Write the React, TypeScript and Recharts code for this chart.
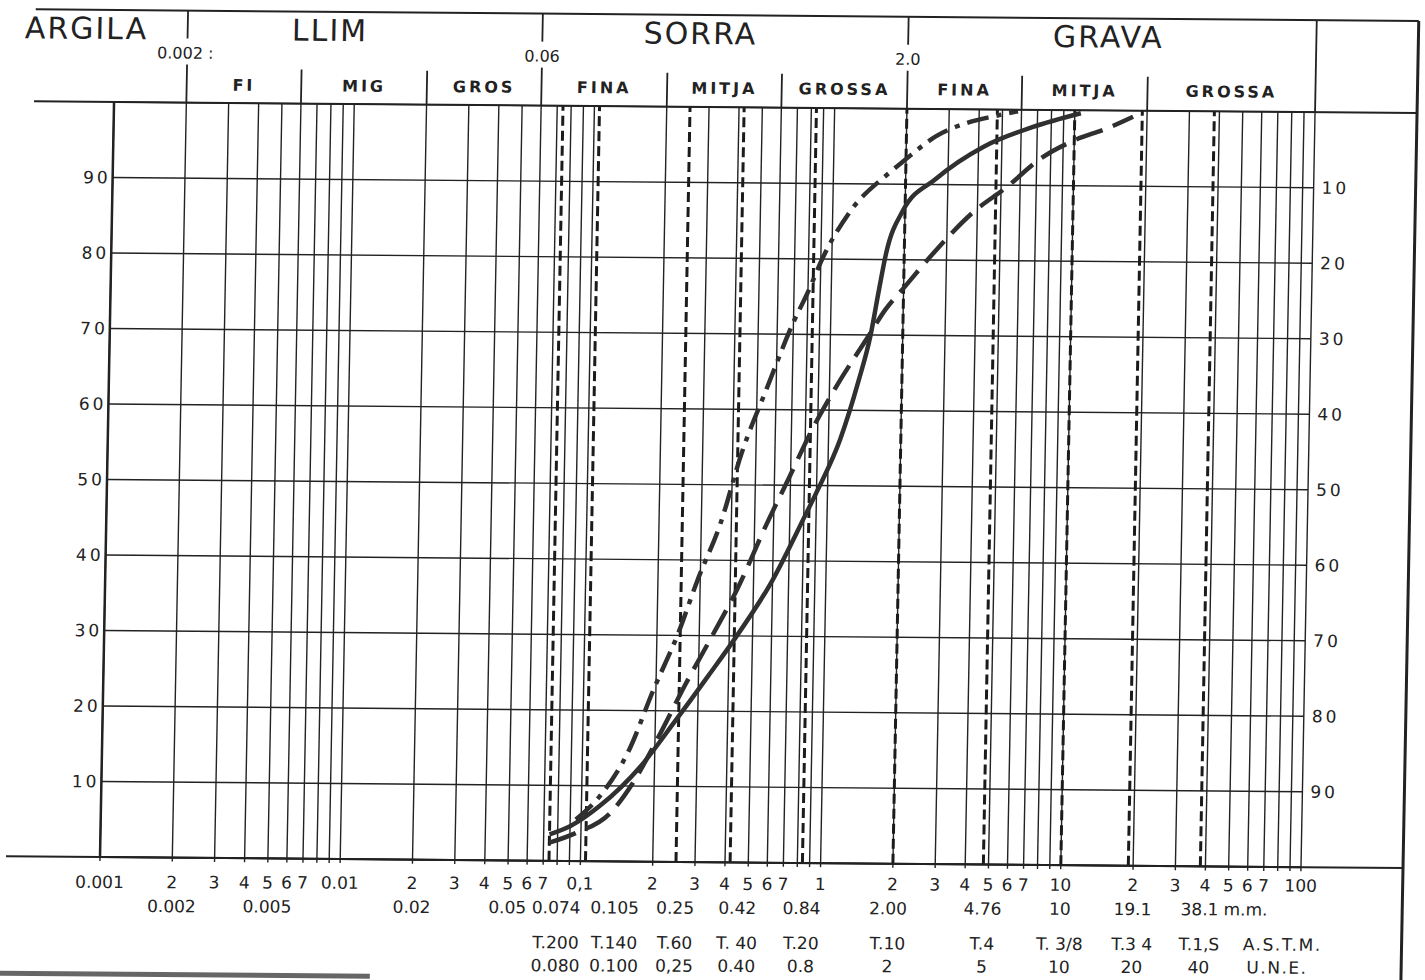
import React from "react";
import {
  ComposedChart,
  Line,
  XAxis,
  YAxis,
  CartesianGrid,
  ReferenceLine,
} from "recharts";

// grain size (mm) and % passing
const SOLID_MM = [0.074, 0.09, 0.119, 0.176, 0.24, 0.33, 0.43, 0.59, 0.81, 0.9, 1.12, 1.32, 1.47, 1.58, 1.68, 1.96, 2.66, 4.22, 6.67, 10.6];
const SOLID_PCT = [3.5, 4.6, 7.3, 12.7, 18.5, 24.7, 30, 37, 46, 49.1, 56.2, 63.9, 70, 76, 80.8, 86.5, 90.7, 95.1, 97.7, 99.6];

const DASHED_MM = [0.074, 0.095, 0.132, 0.163, 0.205, 0.265, 0.34, 0.43, 0.555, 0.69, 0.85, 1.04, 1.45, 1.68, 2.02, 2.66, 3.85, 5.26, 7.3, 10, 13.6, 17.5];
const DASHED_PCT = [2.4, 3.7, 6.4, 10.4, 16.3, 23.5, 30, 36.3, 44.5, 51, 57.3, 62.5, 70, 73.3, 76.4, 81, 86.4, 89.7, 93.6, 96, 97.6, 99.2];

const DASHDOT_MM = [0.095, 0.121, 0.156, 0.195, 0.246, 0.292, 0.36, 0.437, 0.544, 0.7, 0.81, 0.9, 1.18, 1.68, 1.96, 2.66, 3.65, 4.6, 5.8];
const DASHDOT_PCT = [5.5, 8.9, 14.7, 22.7, 30.4, 37.3, 44.8, 54.3, 62.5, 71.6, 76, 79.6, 86.3, 91.3, 93.1, 96.4, 98.3, 99.1, 99.8];

// size classes
const MAIN_BOUNDS = [0.001, 0.002, 0.06, 2, 100];
const MAIN_NAMES = ["ARGILA", "LLIM", "SORRA", "GRAVA"];
const SUB_BOUNDS = [0.002, 0.006, 0.02, 0.06, 0.2, 0.6, 2, 6, 20, 100];
const SUB_NAMES = ["FI", "MIG", "GROS", "FINA", "MITJA", "GROSSA", "FINA", "MITJA", "GROSSA"];
const MAJOR_MARKS = [0.002, 0.06, 2];
const MAJOR_MARK_LABELS = ["0.002 :", "0.06", "2.0"];

// log grid ticks
const DECADES = [0.001, 0.01, 0.1, 1, 10];
const DECADE_LABELS = ["0.001", "0.01", "0,1", "1", "10"];
const STEP_LABELS = ["", "2", "3", "4", "5", "6", "7", "", ""];
const PCT_TICKS = [10, 20, 30, 40, 50, 60, 70, 80, 90];

// sieves
const MARK_MM = [0.002, 0.005, 0.02, 0.05];
const MARK_LABELS = ["0.002", "0.005", "0.02", "0.05"];
const SIEVE_MM = [0.074, 0.105, 0.25, 0.42, 0.84, 2, 4.76, 10, 19.1, 38.1];
const SIEVE_MM_LABELS = ["0.074", "0.105", "0.25", "0.42", "0.84", "2.00", "4.76", "10", "19.1", "38.1"];
const ASTM_LABELS = ["T.200", "T.140", "T.60", "T. 40", "T.20", "T.10", "T.4", "T. 3/8", "T.3 4", "T.1,S"];
const UNE_LABELS = ["0.080", "0.100", "0,25", "0.40", "0.8", "2", "5", "10", "20", "40"];

const GRID_TICKS: number[] = [];
const GRID_LABELS: string[] = [];
DECADES.forEach((d, i) => {
  for (let m = 1; m <= 9; m++) {
    GRID_TICKS.push(+(d * m).toPrecision(6));
    GRID_LABELS.push(m === 1 ? DECADE_LABELS[i] : STEP_LABELS[m - 1]);
  }
});
GRID_TICKS.push(100);
GRID_LABELS.push("100");

const MAIN_CENTERS = MAIN_NAMES.map((_, i) => Math.sqrt(MAIN_BOUNDS[i] * MAIN_BOUNDS[i + 1]));
const SUB_CENTERS = SUB_NAMES.map((_, i) => Math.sqrt(SUB_BOUNDS[i] * SUB_BOUNDS[i + 1]));
const SIEVE_AXIS_TICKS = [...MARK_MM, ...SIEVE_MM];

const toRows = (xs: number[], ys: number[]) => xs.map((d, i) => ({ d, p: ys[i] }));
const solidData = toRows(SOLID_MM, SOLID_PCT);
const dashedData = toRows(DASHED_MM, DASHED_PCT);
const dashdotData = toRows(DASHDOT_MM, DASHDOT_PCT);

// layout / style
const W = 1425;
const H = 980;
const PLOT_LEFT = 100;
const PLOT_RIGHT = 1301;
const PLOT_TOP = 102;
const PLOT_BOTTOM = 857;
const HDR_TOP = 10;
const FRAME_RIGHT = 1403;
const INK = "#222";
const CURVE = "#303030";
const FONT = "'DejaVu Sans', 'Liberation Sans', sans-serif";
const DOMAIN: [number, number] = [0.001, 100];
const SKEW_Y = 0.0085; // scan tilt of the horizontal rules
const TEXT_LEVEL = 0.0055; // lettering below the axis is almost level in the scan
const MAIN_DX = [-65, -35, -25, -4];
const MAJOR_DX = [-2, 0, 0];
const SIEVE_DX = [8, 30, 0, 8, 0, -4, 0, 0, 5, 0];
const ROW1_Y = 888;
const ROW2_Y = 912;
const ROW3_Y = 947;
const ROW4_Y = 970;

const txt = { fill: INK, fontFamily: FONT };
const rowY = (base: number, x: number) => base - TEXT_LEVEL * (x - PLOT_LEFT);

const BoundaryTick = (props: any) => {
  const { x, payload } = props;
  const v = payload.value;
  const k = MAJOR_MARKS.indexOf(v);
  const seg = (y1: number, y2: number) => (
    <line x1={x} x2={x} y1={y1} y2={y2} stroke={INK} strokeWidth={1.8} />
  );
  if (k >= 0) {
    return (
      <g>
        {seg(HDR_TOP, 38)}
        <text x={x + MAJOR_DX[k]} y={58} textAnchor="middle" fontSize={16} {...txt}>
          {MAJOR_MARK_LABELS[k]}
        </text>
        {seg(64, PLOT_TOP)}
      </g>
    );
  }
  if (v === 100) return <g>{seg(HDR_TOP, PLOT_TOP)}</g>;
  return <g>{seg(68, PLOT_TOP)}</g>;
};

const MainNameTick = (props: any) => {
  const { x, payload } = props;
  const i = MAIN_CENTERS.indexOf(payload.value);
  if (i < 0) return <g />;
  return (
    <text x={x + MAIN_DX[i]} y={39} textAnchor="middle" fontSize={30} letterSpacing={2} {...txt}>
      {MAIN_NAMES[i]}
    </text>
  );
};

const SubNameTick = (props: any) => {
  const { x, payload } = props;
  const i = SUB_CENTERS.indexOf(payload.value);
  if (i < 0) return <g />;
  return (
    <text x={x} y={90 - 0.002 * (x - PLOT_LEFT)} textAnchor="middle" fontSize={16} fontWeight="bold" letterSpacing={3} {...txt}>
      {SUB_NAMES[i]}
    </text>
  );
};

const GridTick = (props: any) => {
  const { x, payload } = props;
  const label = GRID_LABELS[GRID_TICKS.indexOf(payload.value)];
  if (!label) return <g />;
  return (
    <text x={x} y={rowY(ROW1_Y, x)} textAnchor="middle" fontSize={17} {...txt}>
      {label}
    </text>
  );
};

const SieveTick = (props: any) => {
  const { x, payload } = props;
  const v = payload.value;
  const m = MARK_MM.indexOf(v);
  if (m >= 0) {
    return (
      <text x={x} y={rowY(ROW2_Y, x)} textAnchor="middle" fontSize={17} {...txt}>
        {MARK_LABELS[m]}
      </text>
    );
  }
  const i = SIEVE_MM.indexOf(v);
  if (i < 0) return <g />;
  const cx = x + SIEVE_DX[i];
  const last = i === SIEVE_MM.length - 1;
  return (
    <g>
      <text x={cx} y={rowY(ROW2_Y, cx)} textAnchor="middle" fontSize={17} {...txt}>
        {SIEVE_MM_LABELS[i]}
      </text>
      <text x={cx} y={rowY(ROW3_Y, cx)} textAnchor="middle" fontSize={17} {...txt}>
        {ASTM_LABELS[i]}
      </text>
      <text x={cx} y={rowY(ROW4_Y, cx)} textAnchor="middle" fontSize={17} {...txt}>
        {UNE_LABELS[i]}
      </text>
      {last && (
        <>
          <text x={x + 24} y={rowY(ROW2_Y, x + 40)} fontSize={17} {...txt}>
            m.m.
          </text>
          <text x={x + 44} y={rowY(ROW3_Y, x + 80)} fontSize={17} letterSpacing={1.5} {...txt}>
            A.S.T.M.
          </text>
          <text x={x + 48} y={rowY(ROW4_Y, x + 75)} fontSize={17} letterSpacing={1.5} {...txt}>
            U.N.E.
          </text>
        </>
      )}
    </g>
  );
};

const LeftTick = (props: any) => (
  <text x={PLOT_LEFT - 2} y={props.y} textAnchor="end" dominantBaseline="central" fontSize={17} letterSpacing={3} {...txt}>
    {props.payload.value}
  </text>
);

const RightTick = (props: any) => (
  <text x={PLOT_RIGHT + 8} y={props.y} textAnchor="start" dominantBaseline="central" fontSize={17} letterSpacing={3} {...txt}>
    {props.payload.value}
  </text>
);

const logAxis = {
  type: "number" as const,
  dataKey: "d",
  scale: "log" as const,
  domain: DOMAIN,
  allowDataOverflow: true,
  interval: 0 as const,
};

// invisible carrier so that the label-only axes get drawn
const carrier = (xId: string, yId: string) => (
  <Line
    key={`carrier-${xId}-${yId}`}
    xAxisId={xId}
    yAxisId={yId}
    data={solidData}
    dataKey="p"
    stroke="none"
    strokeWidth={0}
    dot={false}
    activeDot={false}
    legendType="none"
    isAnimationActive={false}
  />
);

export default function App() {
  return (
    <div
      style={{
        position: "absolute",
        left: 0,
        top: 0,
        width: W,
        height: H,
        background: "#fff",
        transform: `matrix(1, ${SKEW_Y}, -0.0186, 1, 0, 0)`,
        transformOrigin: `${PLOT_LEFT}px ${PLOT_BOTTOM}px`,
      }}
    >
      <ComposedChart width={W} height={H} margin={{ top: 2, right: 64, bottom: 3, left: 40 }}>
        <XAxis xAxisId="hdrLines" orientation="top" {...logAxis} ticks={SUB_BOUNDS} height={34} axisLine={false} tickLine={false} tick={BoundaryTick} />
        <XAxis xAxisId="hdrMain" orientation="top" {...logAxis} ticks={MAIN_CENTERS} height={33} axisLine={false} tickLine={false} tick={MainNameTick} />
        <XAxis xAxisId="hdrSub" orientation="top" {...logAxis} ticks={SUB_CENTERS} height={33} axisLine={false} tickLine={false} tick={SubNameTick} />
        <XAxis
          xAxisId="main"
          {...logAxis}
          ticks={GRID_TICKS}
          height={30}
          axisLine={{ stroke: INK, strokeWidth: 2 }}
          tickLine={{ stroke: INK, strokeWidth: 1.4 }}
          tickSize={4}
          tick={GridTick}
        />
        <XAxis xAxisId="sieve" {...logAxis} ticks={SIEVE_AXIS_TICKS} height={90} axisLine={false} tickLine={false} tick={SieveTick} />
        <YAxis
          yAxisId="left"
          type="number"
          domain={[0, 100]}
          ticks={PCT_TICKS}
          interval={0}
          width={60}
          axisLine={{ stroke: INK, strokeWidth: 2.5 }}
          tickLine={false}
          tick={LeftTick}
        />
        <YAxis
          yAxisId="right"
          orientation="right"
          type="number"
          domain={[0, 100]}
          reversed
          ticks={PCT_TICKS}
          interval={0}
          width={60}
          axisLine={false}
          tickLine={false}
          tick={RightTick}
        />
        <CartesianGrid xAxisId="main" yAxisId="left" stroke={INK} strokeWidth={1.4} />
        {SIEVE_MM.map((v) => (
          <ReferenceLine key={v} xAxisId="main" yAxisId="left" x={v} stroke="#1b1b1b" strokeWidth={3} strokeDasharray="10 5" />
        ))}
        {carrier("hdrLines", "right")}
        {carrier("hdrMain", "left")}
        {carrier("hdrSub", "left")}
        {carrier("sieve", "left")}
        <Line xAxisId="main" yAxisId="left" data={solidData} dataKey="p" type="monotone" stroke={CURVE} strokeWidth={4.5} dot={false} activeDot={false} isAnimationActive={false} />
        <Line xAxisId="main" yAxisId="left" data={dashedData} dataKey="p" type="monotone" stroke={CURVE} strokeWidth={4.5} strokeDasharray="28 11" dot={false} activeDot={false} isAnimationActive={false} />
        <Line xAxisId="main" yAxisId="left" data={dashdotData} dataKey="p" type="monotone" stroke={CURVE} strokeWidth={4.5} strokeDasharray="22 8 5 8" dot={false} activeDot={false} isAnimationActive={false} />
      </ComposedChart>
      <svg width={W} height={H} style={{ position: "absolute", left: 0, top: 0, pointerEvents: "none" }}>
        <line x1={20} y1={HDR_TOP} x2={FRAME_RIGHT} y2={HDR_TOP} stroke={INK} strokeWidth={2} />
        <line x1={20} y1={PLOT_TOP} x2={FRAME_RIGHT} y2={PLOT_TOP} stroke={INK} strokeWidth={2} />
        <line x1={6} y1={PLOT_BOTTOM} x2={FRAME_RIGHT} y2={PLOT_BOTTOM} stroke={INK} strokeWidth={2} />
        <line x1={FRAME_RIGHT} y1={HDR_TOP} x2={FRAME_RIGHT} y2={H} stroke={INK} strokeWidth={3} />
        <line x1={0} y1={974} x2={372} y2={974} stroke="#666" strokeWidth={5} />
      </svg>
    </div>
  );
}
